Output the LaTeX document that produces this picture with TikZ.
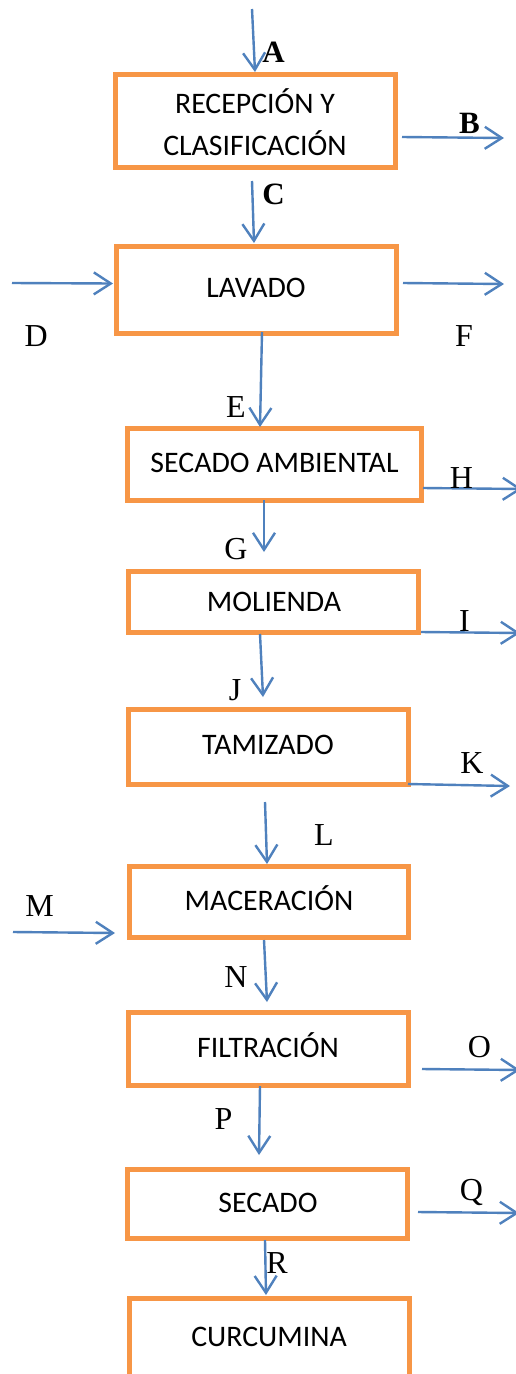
\documentclass[tikz,border=0pt]{standalone}
\usepackage{fontspec}
\setmainfont{Carlito}
\newfontfamily\labfont{Liberation Serif}
\usetikzlibrary{arrows.meta}
\definecolor{flowblue}{RGB}{79,129,189}
\definecolor{boxorange}{RGB}{247,150,70}
\begin{document}
\begin{tikzpicture}[x=1pt,y=-1pt,
  box/.style={draw=boxorange, line width=5pt, rectangle, inner sep=0pt},
  boxtxt/.style={anchor=base, inner sep=0pt, font=\fontsize{29.8}{34}\selectfont},
  lab/.style={anchor=base, inner sep=0pt, font=\labfont\fontsize{32}{36}\selectfont},
  blab/.style={anchor=base, inner sep=0pt, font=\labfont\bfseries\fontsize{31}{36}\selectfont},
  flow/.style={draw=flowblue, line width=2.4pt, -{Straight Barb[length=17pt,width=22pt]}}]
\useasboundingbox (0,0) rectangle (516,1374);
\clip (0,0) rectangle (516,1374);
\fill[white] (0,0) rectangle (516,1374);

% boxes
\node[box, minimum width=280pt, minimum height=93pt]   (b1) at (255,120.5) {};
\node[box, minimum width=280pt, minimum height=86.5pt] (b2) at (256.5,289.75) {};
\node[box, minimum width=294pt, minimum height=72pt]   (b3) at (274.5,464.5) {};
\node[box, minimum width=290pt, minimum height=61pt]   (b4) at (273.5,602) {};
\node[box, minimum width=280pt, minimum height=75pt]   (b5) at (268.5,747) {};
\node[box, minimum width=279pt, minimum height=71pt]   (b6) at (269,902) {};
\node[box, minimum width=280pt, minimum height=73pt]   (b7) at (268.5,1049) {};
\node[box, minimum width=280pt, minimum height=69pt]   (b8) at (267.5,1204) {};
\node[box, minimum width=280pt, minimum height=121.5pt] (b9) at (269.5,1359.25) {};

% box texts
\node[boxtxt] (t1a) at (255,113) {RECEPCIÓN Y};
\node[boxtxt] (t1b) at (255,155) {CLASIFICACIÓN};
\node[boxtxt] (t2) at (256,297) {LAVADO};
\node[boxtxt] (t3) at (274.5,472) {SECADO AMBIENTAL};
\node[boxtxt] (t4) at (274,611) {MOLIENDA};
\node[boxtxt] (t5) at (268,754) {TAMIZADO};
\node[boxtxt] (t6) at (269,910) {MACERACIÓN};
\node[boxtxt] (t7) at (268,1057) {FILTRACIÓN};
\node[boxtxt] (t8) at (268,1212) {SECADO};
\node[boxtxt] (t9) at (269,1346) {CURCUMINA};

% connector end points
\coordinate (a0) at (252,9);    \coordinate (a1) at (255,72);
\coordinate (bb0) at (402,137); \coordinate (bb1) at (504,138);
\coordinate (c0) at (252,181);  \coordinate (c1) at (254,243);
\coordinate (d0) at (12,283);   \coordinate (d1) at (113,283.5);
\coordinate (f0) at (403,283);  \coordinate (f1) at (504,284);
\coordinate (e0) at (262,332);  \coordinate (e1) at (260,427);
\coordinate (h0) at (423,488);  \coordinate (h1) at (522,489);
\coordinate (g0) at (264,500);  \coordinate (g1) at (264,552);
\coordinate (i0) at (421,632);  \coordinate (i1) at (520,633);
\coordinate (j0) at (260,634);  \coordinate (j1) at (263,697);
\coordinate (k0) at (408,784);  \coordinate (k1) at (510,786);
\coordinate (l0) at (265,802);  \coordinate (l1) at (267,864);
\coordinate (m0) at (13,932);   \coordinate (m1) at (115,933);
\coordinate (n0) at (264,940);  \coordinate (n1) at (267,1002);
\coordinate (o0) at (422,1069); \coordinate (o1) at (520,1070);
\coordinate (p0) at (260,1086); \coordinate (p1) at (259,1155);
\coordinate (q0) at (418,1212); \coordinate (q1) at (519,1213);
\coordinate (r0) at (265,1240); \coordinate (r1) at (266,1295);

% connectors
\foreach \s in {a,bb,c,d,f,e,h,g,i,j,k,l,m,n,o,p,q,r}
  \draw[flow] (\s0) -- (\s1);

% labels
\node[blab] (lA) at (273.5,62) {A};
\node[blab] (lB) at (469.5,133) {B};
\node[blab] (lC) at (273.5,204) {C};
\node[lab] (lD) at (36.3,346) {D};
\node[lab] (lF) at (464,346) {F};
\node[lab] (lE) at (236,417) {E};
\node[lab] (lH) at (461.5,488) {H};
\node[lab] (lG) at (236,559) {G};
\node[lab] (lI) at (464.5,631) {I};
\node[lab] (lJ) at (235,700) {J};
\node[lab] (lK) at (472,773) {K};
\node[lab] (lL) at (324,845) {L};
\node[lab] (lM) at (39.5,916) {M};
\node[lab] (lN) at (236,987) {N};
\node[lab] (lO) at (479.5,1057) {O};
\node[lab] (lP) at (223.5,1129) {P};
\node[lab] (lQ) at (471.5,1200) {Q};
\node[lab] (lR) at (277,1273) {R};
\end{tikzpicture}
\end{document}
